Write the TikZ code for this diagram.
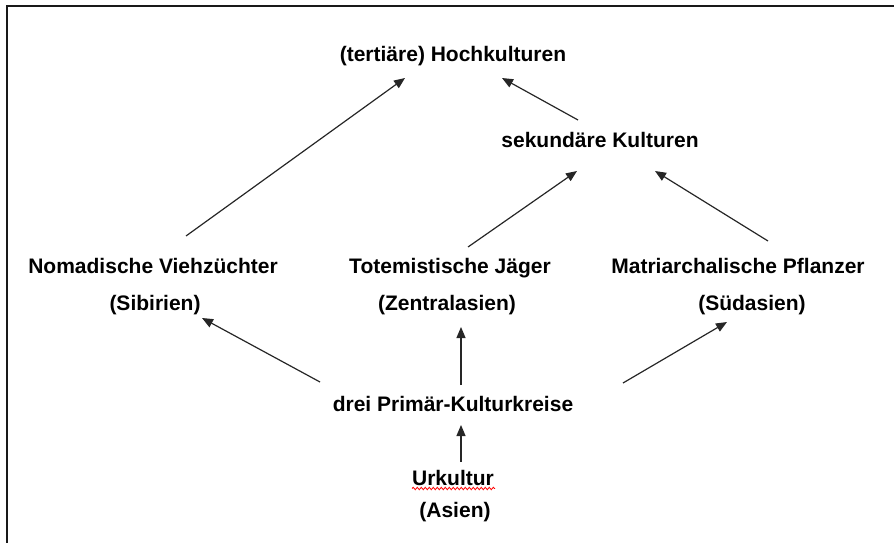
\documentclass[tikz,border=0pt]{standalone}
\usepackage{fontspec}
\setmainfont{Liberation Sans}
\usetikzlibrary{arrows.meta,calc,decorations.pathmorphing}
\begin{document}
\begin{tikzpicture}[x=1pt,y=-1pt,
  lbl/.style={anchor=base,inner sep=0pt,font=\fontsize{21}{25}\selectfont\bfseries},
  arr/.style={-{Triangle[length=11pt,width=9pt]},line width=1.2pt,draw=black!85},
  frame/.style={line width=2.3pt,draw=black!90}]
\useasboundingbox (0,0) rectangle (894,543);
\draw[frame] (894,6) -- (7,6) -- (7,543);

\node[lbl] (hoch) at (453,62) {(tertiäre) Hochkulturen};
\node[lbl] (sek) at (600,147) {sekundäre Kulturen};
\node[lbl] (nom) at (153,273) {Nomadische Viehzüchter};
\node[lbl] (sib) at (155,310) {(Sibirien)};
\node[lbl] (tot) at (450,273) {Totemistische Jäger};
\node[lbl] (zen) at (447,310) {(Zentralasien)};
\node[lbl] (mat) at (738,273) {Matriarchalische Pflanzer};
\node[lbl] (sud) at (752,310) {(Südasien)};
\node[lbl] (drei) at (453,411) {drei Primär-Kulturkreise};
\node[lbl] (urk) at (453,485) {Urkultur};
\node[lbl] (asi) at (455,517) {(Asien)};

\draw[red,line width=0.8pt,decorate,decoration={snake,amplitude=1.2pt,segment length=4pt}]
  ($(urk.base)+(-41,3.5)$) -- ($(urk.base)+(42,3.5)$);

\draw[arr] ($(nom.base)+(33,-37)$) -- ($(hoch.base)+(-48,16)$);
\draw[arr] ($(sek.base)+(-22,-27)$) -- ($(hoch.base)+(49,16)$);
\draw[arr] ($(tot.base)+(18,-26)$) -- ($(sek.base)+(-23,24)$);
\draw[arr] ($(mat.base)+(30,-32)$) -- ($(sek.base)+(55,24)$);
\draw[arr] ($(drei.base)+(-133,-29)$) -- ($(sib.base)+(47,8)$);
\draw[arr] ($(drei.base)+(8,-26)$) -- ($(zen.base)+(14,17)$);
\draw[arr] ($(drei.base)+(170,-28)$) -- ($(sud.base)+(-25,12)$);
\draw[arr] ($(urk.base)+(8,-23)$) -- ($(drei.base)+(8,14)$);
\end{tikzpicture}
\end{document}
